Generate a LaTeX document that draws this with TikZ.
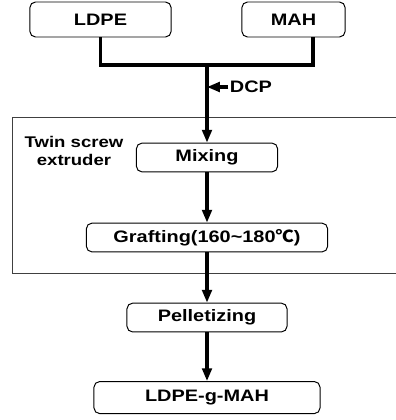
\documentclass[tikz,border=0pt]{standalone}
\usepackage{fontspec}
\setmainfont{Liberation Sans}[FakeStretch=1.2]
\newfontfamily\cjk{Noto Sans CJK SC}[FakeStretch=1.1]
\usetikzlibrary{arrows.meta}
\begin{document}
\begin{tikzpicture}[x=0.025cm, y=-0.025cm, node distance=2.0cm,
                    main node/.style={draw,line width=0.7pt,rounded corners=4pt,minimum height=0.72cm,inner sep=0pt,font=\fontsize{11.8}{14}\selectfont\bfseries},
                    flow/.style={line width=2.2pt,-{Triangle[length=3.2mm,width=2.4mm]}}]

  \useasboundingbox (0,0) rectangle (395,420);

  % extruder frame, open to the right
  \draw[line width=0.6pt,black!75] (396,117) -- (12,117) -- (12,273) -- (396,273);
  \node[align=center,font=\fontsize{11}{12.8}\selectfont\bfseries] (8) at (74,151) {Twin screw\\extruder};

  \node[main node,minimum width=3.53cm,minimum height=0.875cm] (1) at (100.5,19.5) {LDPE};
  \node[main node,minimum width=2.58cm,minimum height=0.875cm] (2) at (293.5,19.5) {MAH};
  \node[main node,minimum width=3.53cm] (3) at (207,157.5) {Mixing};
  \node[main node,minimum width=6.03cm] (4) [below of=3] {Grafting(160\textasciitilde180{\cjk ℃})};
  \node[main node,minimum width=4.0cm] (5) [below of=4] {Pelletizing};
  \node[main node,minimum width=5.65cm,minimum height=0.8cm] (6) [below of=5] {LDPE-g-MAH};
  \node[font=\fontsize{11.8}{14}\selectfont\bfseries,inner sep=1pt] (7) at (251,87) {DCP};

  \coordinate (j) at (207,65);
  \coordinate (jr) at (313,65);

  \draw[line width=2.2pt] (1) |- (jr) -- (jr |- 2.south);

  \path (j) edge[flow] (3)
        (7.west) edge[flow] (7.west -| j)
        (3) edge[flow] (4)
        (4) edge[flow] (5)
        (5) edge[flow] (6);

\end{tikzpicture}
\end{document}
